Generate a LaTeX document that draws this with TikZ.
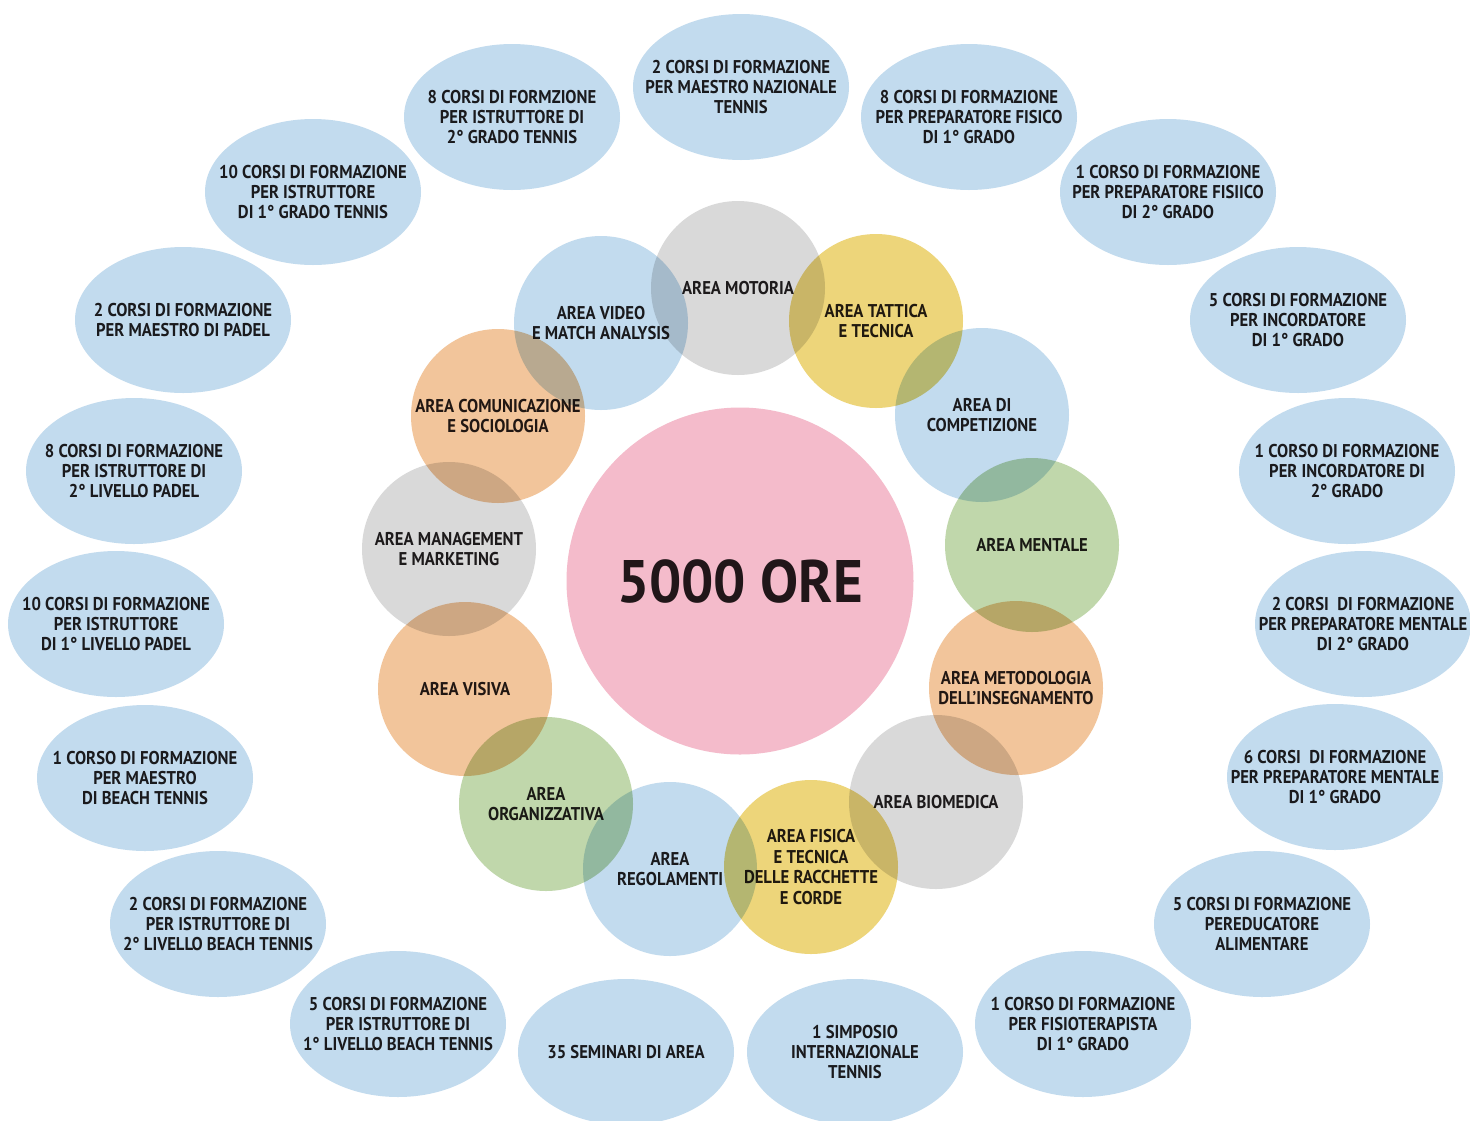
\documentclass[tikz,border=0pt]{standalone}
\usepackage{fontspec}
\setmainfont{PT Sans}[FakeStretch=0.9]
\newfontfamily\bigfont{PT Sans}[FakeStretch=0.95]
\usetikzlibrary{shapes.geometric}
\definecolor{cblue}{HTML}{C2DBEE}
\definecolor{cgray}{HTML}{D9D9D9}
\definecolor{cyellow}{HTML}{EDD57A}
\definecolor{cgreen}{HTML}{C0D7AB}
\definecolor{corange}{HTML}{F2C59B}
\definecolor{cpink}{HTML}{F4BBCB}
\definecolor{ctext}{HTML}{231F20}
\tikzset{
  bubble/.style={ellipse, draw=none, fill=cblue, inner sep=0pt, minimum width=216pt, minimum height=146pt,
    label={[txt]center:{#1}}},
  area/.style 2 args={circle, draw=none, fill=#1, inner sep=0pt, minimum size=174pt,
    label={[txt]center:{#2}}},
  txt/.style={align=center, text=ctext, font=\fontsize{18.5}{20.4}\selectfont\bfseries, inner sep=0pt},
}
\begin{document}
\begin{tikzpicture}[x=1pt,y=-1pt]
\useasboundingbox (0,0) rectangle (1470,1120);
\fill[white] (0,0) rectangle (1470,1120);
\begin{scope}
\clip (0,0) rectangle (1470,1120);
\begin{scope}[blend mode=multiply]
% outer course bubbles
\node[bubble={2 CORSI DI FORMAZIONE\\PER MAESTRO NAZIONALE\\TENNIS}] (o1) at (741,87) {};
\node[bubble={8 CORSI DI FORMZIONE\\PER ISTRUTTORE DI\\2° GRADO TENNIS}] (o2) at (512,117) {};
\node[bubble={8 CORSI DI FORMAZIONE\\PER PREPARATORE FISICO\\DI 1° GRADO}] (o3) at (969,117) {};
\node[bubble={10 CORSI DI FORMAZIONE\\PER ISTRUTTORE\\DI 1° GRADO TENNIS}] (o4) at (313,192) {};
\node[bubble={1 CORSO DI FORMAZIONE\\PER PREPARATORE FISIICO\\DI 2° GRADO}] (o5) at (1168,192) {};
\node[bubble={2 CORSI DI FORMAZIONE\\PER MAESTRO DI PADEL}] (o6) at (183,320) {};
\node[bubble={5 CORSI DI FORMAZIONE\\PER INCORDATORE\\DI 1° GRADO}] (o7) at (1298,320) {};
\node[bubble={8 CORSI DI FORMAZIONE\\PER ISTRUTTORE DI\\2° LIVELLO PADEL}] (o8) at (134,471) {};
\node[bubble={1 CORSO DI FORMAZIONE\\PER INCORDATORE DI\\2° GRADO}] (o9) at (1347,471) {};
\node[bubble={10 CORSI DI FORMAZIONE\\PER ISTRUTTORE\\DI 1° LIVELLO PADEL}] (o10) at (116,624) {};
\node[bubble={2 CORSI\ \ DI FORMAZIONE\\PER PREPARATORE MENTALE\\DI 2° GRADO}] (o11) at (1363,624) {};
\node[bubble={1 CORSO DI FORMAZIONE\\PER MAESTRO\\DI BEACH TENNIS}] (o12) at (145,778) {};
\node[bubble={6 CORSI\ \ DI FORMAZIONE\\PER PREPARATORE MENTALE\\DI 1° GRADO}] (o13) at (1335,777) {};
\node[bubble={2 CORSI DI FORMAZIONE\\PER ISTRUTTORE DI\\2° LIVELLO BEACH TENNIS}] (o14) at (218,924) {};
\node[bubble={5 CORSI DI FORMAZIONE\\PEREDUCATORE\\ALIMENTARE}] (o15) at (1262,924) {};
\node[bubble={5 CORSI DI FORMAZIONE\\PER ISTRUTTORE DI\\1° LIVELLO BEACH TENNIS}] (o16) at (398,1024) {};
\node[bubble={35 SEMINARI DI AREA}] (o17) at (626,1052) {};
\node[bubble={1 SIMPOSIO\\INTERNAZIONALE\\TENNIS}] (o18) at (855,1052) {};
\node[bubble={1 CORSO DI FORMAZIONE\\PER FISIOTERAPISTA\\DI 1° GRADO}] (o19) at (1083,1024) {};
% central
\node[circle, fill=cpink, inner sep=0pt, minimum size=347pt,
  label={[text=ctext, inner sep=0pt]center:{\bigfont\fontsize{60}{60}\selectfont\bfseries 5000 ORE}}] (c) at (740,581) {};
% area circles
\node[area={cgray}{AREA MOTORIA}] (a1) at (738,288) {};
\node[area={cblue}{AREA VIDEO\\E MATCH ANALYSIS}] (a2) at (601,323) {};
\node[area={cyellow}{AREA TATTICA\\E TECNICA}] (a3) at (876,321) {};
\node[area={cblue}{AREA DI\\COMPETIZIONE}] (a4) at (982,415) {};
\node[area={cgreen}{AREA MENTALE}] (a5) at (1032,545) {};
\node[area={corange}{AREA METODOLOGIA\\DELL’INSEGNAMENTO}] (a6) at (1016,688) {};
\node[area={cgray}{AREA BIOMEDICA}] (a7) at (936,802) {};
\node[area={cyellow}{AREA FISICA\\E TECNICA\\DELLE RACCHETTE\\E CORDE}] (a8) at (811,867) {};
\node[area={cblue}{AREA\\REGOLAMENTI}] (a9) at (670,869) {};
\node[area={cgreen}{AREA\\ORGANIZZATIVA}] (a10) at (546,804) {};
\node[area={corange}{AREA VISIVA}] (a11) at (465,689) {};
\node[area={cgray}{AREA MANAGEMENT\\E MARKETING}] (a12) at (449,549) {};
\node[area={corange}{AREA COMUNICAZIONE\\E SOCIOLOGIA}] (a13) at (498,416) {};
\end{scope}
\end{scope}
\end{tikzpicture}
\end{document}
